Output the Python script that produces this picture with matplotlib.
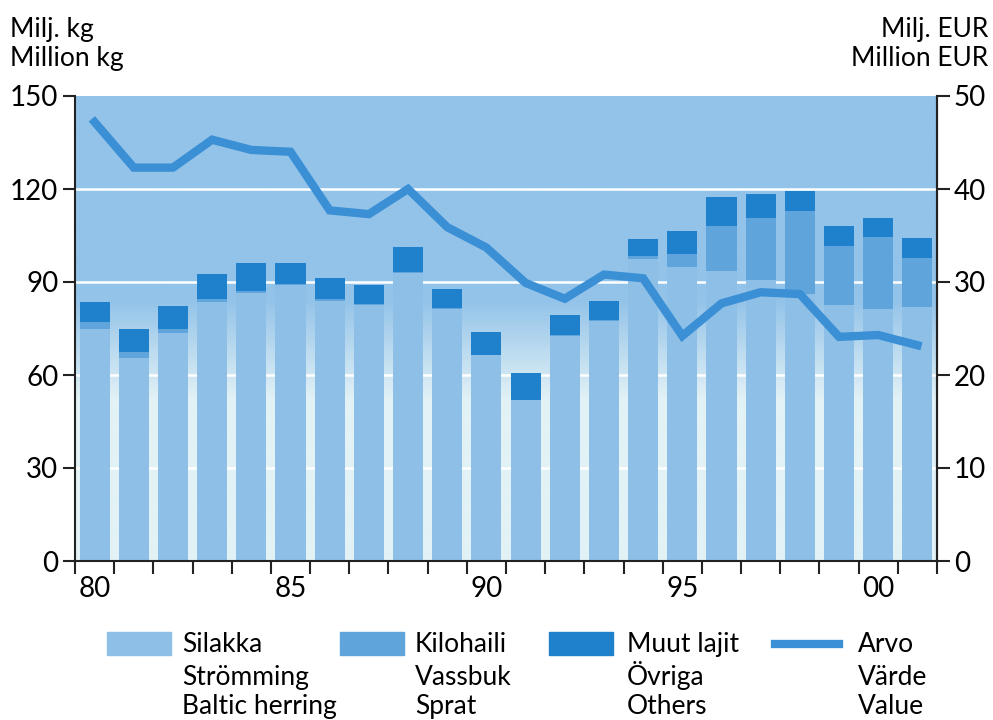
import numpy as np
import matplotlib
matplotlib.use("Agg")
import matplotlib.pyplot as plt
from matplotlib.patches import Rectangle
from matplotlib.lines import Line2D
from matplotlib.colors import to_rgb

plt.rcParams['font.family'] = ['Lato', 'DejaVu Sans']

years = list(range(1980, 2002))
silakka = [75.0, 65.5, 73.4, 83.6, 86.5, 89.0, 84.0, 82.6, 93.0, 81.2, 66.3,
           51.9, 72.7, 77.5, 97.5, 95.0, 93.6, 90.6, 86.0, 82.6, 81.2, 81.8]
kilohaili = [2.0, 1.8, 1.6, 0.8, 0.5, 0.4, 0.5, 0.4, 0.3, 0.3, 0.2,
             0.1, 0.2, 0.2, 1.0, 4.0, 14.5, 19.9, 27.0, 19.0, 23.2, 15.8]
muut = [6.7, 7.4, 7.3, 8.2, 9.2, 6.8, 6.7, 6.0, 7.9, 6.3, 7.3,
        8.5, 6.5, 6.2, 5.4, 7.5, 9.2, 7.8, 6.2, 6.5, 6.1, 6.5]
arvo = [47.2, 42.3, 42.3, 45.3, 44.2, 44.0, 37.7, 37.3, 40.0, 35.9, 33.7,
        29.9, 28.2, 30.8, 30.4, 24.2, 27.7, 28.9, 28.7, 24.1, 24.3, 23.2]

left_ticks = [0, 30, 60, 90, 120, 150]
right_ticks = [0, 10, 20, 30, 40, 50]
xlabel_years = [1980, 1985, 1990, 1995, 2000]
xlabel_text = ['80', '85', '90', '95', '00']

legend_labels = [
    ("Silakka", "Strömming", "Baltic herring"),
    ("Kilohaili", "Vassbuk", "Sprat"),
    ("Muut lajit", "Övriga", "Others"),
    ("Arvo", "Värde", "Value"),
]

c_bg = "#93c3e9"
c_pale = "#e2f2f6"
c_sil = "#8dbfe7"
c_kilo = "#5fa4da"
c_muut = "#1f80cb"
c_line = "#3a8fd5"

fs = 20
fs_txt = 19

fig = plt.figure(figsize=(9.93, 7.2), dpi=100)
ax = fig.add_axes([75/993, 1-561/720, (937-75)/993, (561-96)/720])
ax.set_xlim(1979.5, 2001.5)
ax.set_ylim(0, 150)

# background gradient
yy = np.linspace(0, 150, 600)
t = np.clip((yy - 52) / (84 - 52), 0, 1)
b = np.array(to_rgb(c_bg)); p = np.array(to_rgb(c_pale))
img = (p[None, :] * (1 - t[:, None]) + b[None, :] * t[:, None])
img = np.repeat(img[:, None, :], 2, axis=1)
ax.imshow(img, extent=[1979.5, 2001.5, 0, 150], origin='lower', aspect='auto', zorder=0)

for g in [30, 60, 90, 120]:
    ax.axhline(g, color='white', lw=1.8, zorder=1)

w = 0.77
sil = np.array(silakka); kil = np.array(kilohaili); mu = np.array(muut)
ax.bar(years, sil, width=w, color=c_sil, zorder=2)
ax.bar(years, kil, width=w, bottom=sil, color=c_kilo, zorder=2)
ax.bar(years, mu, width=w, bottom=sil + kil, color=c_muut, zorder=2)

ax.spines['top'].set_visible(False)
for s in ['left', 'bottom', 'right']:
    ax.spines[s].set_linewidth(1.5)
    ax.spines[s].set_color('#222222')

ax.set_xticks(np.arange(1979.5, 2002, 1.0))
ax.set_xticklabels([])
ax.tick_params(axis='x', which='major', direction='out', length=9, width=1.5, color='#222222')
ax.set_xticks(xlabel_years, minor=True)
ax.set_xticklabels(xlabel_text, minor=True)
ax.tick_params(axis='x', which='minor', length=0, labelsize=fs, pad=11)

ax.set_yticks(left_ticks)
ax.tick_params(axis='y', direction='out', length=9, width=1.5, labelsize=fs, pad=3, color='#222222')

ax2 = ax.twinx()
ax2.set_ylim(0, 50)
ax2.set_yticks(right_ticks)
ax2.tick_params(axis='y', direction='out', length=9, width=1.5, labelsize=fs, pad=3, color='#222222')
for s in ['top', 'left', 'bottom']:
    ax2.spines[s].set_visible(False)
ax2.spines['right'].set_linewidth(1.5)
ax2.spines['right'].set_color('#222222')
ax2.plot(years, arvo, color=c_line, lw=6, solid_joinstyle='miter', zorder=3)

# headers
fig.text(10/993, 1-37/720, "Milj. kg", fontsize=fs_txt, ha='left', va='baseline')
fig.text(10/993, 1-66/720, "Million kg", fontsize=fs_txt, ha='left', va='baseline')
fig.text(988/993, 1-37/720, "Milj. EUR", fontsize=fs_txt, ha='right', va='baseline')
fig.text(988/993, 1-66/720, "Million EUR", fontsize=fs_txt, ha='right', va='baseline')

# legend
handles_x = [107, 340, 549, 775]
text_x = [182, 415, 627, 858]
patch_cols = [c_sil, c_kilo, c_muut]
line_ys = [652, 685, 714]
for i, (hx, tx, labs) in enumerate(zip(handles_x, text_x, legend_labels)):
    if i < 3:
        fig.patches.append(Rectangle((hx/993, 1-655/720), 64/993, 23/720,
                                     transform=fig.transFigure, color=patch_cols[i]))
    else:
        fig.lines.append(Line2D([hx/993, (hx+64)/993], [1-644/720, 1-644/720],
                                transform=fig.transFigure, color=c_line, lw=6))
    for ly, lab in zip(line_ys, labs):
        fig.text(tx/993, 1-ly/720, lab, fontsize=fs_txt, ha='left', va='baseline')

fig.savefig("out.png", dpi=100)
